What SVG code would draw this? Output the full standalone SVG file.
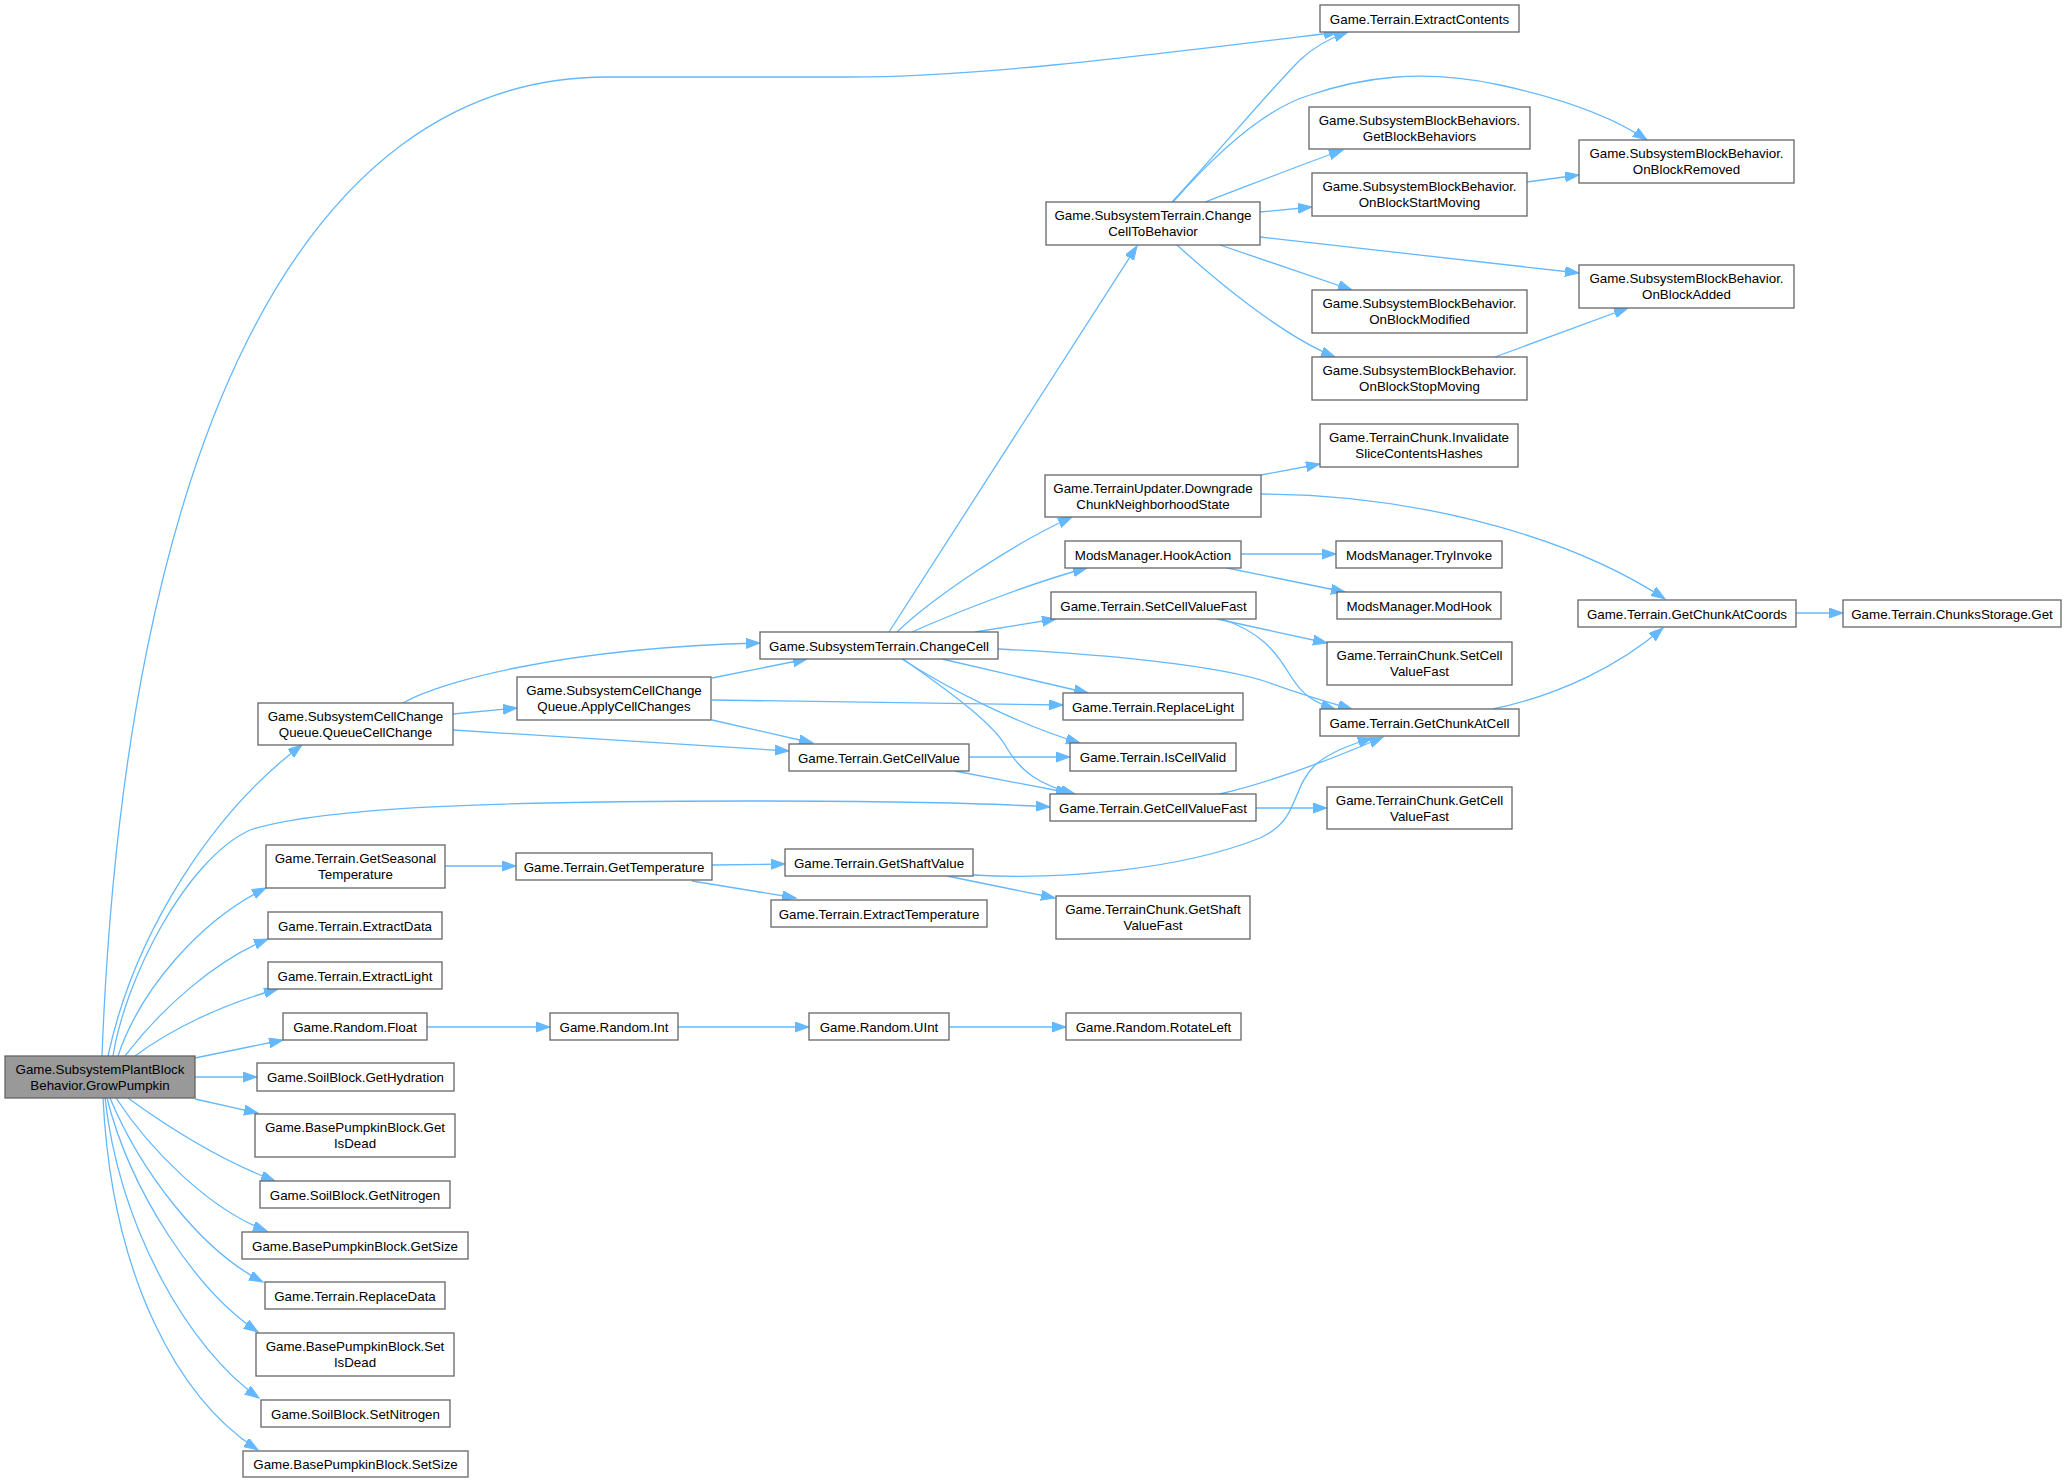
<svg xmlns="http://www.w3.org/2000/svg" width="2067" height="1483" viewBox="0 0 2067 1483">
<style>
.node rect{fill:#ffffff;stroke:#666666;stroke-width:1.3}
.node.main rect{fill:#999999}
.node text{font-family:"Liberation Sans",Arial,Helvetica,sans-serif;font-size:13.33px;fill:#000000;text-anchor:middle}
.edges path{fill:none;stroke:#63b8ff;stroke-width:1.3;marker-end:url(#ah)}
</style>
<defs>
<marker id="ah" markerUnits="userSpaceOnUse" markerWidth="16" markerHeight="12" refX="14" refY="5" orient="auto">
<path d="M0,0 L14,5 L0,10 z" fill="#63b8ff" stroke="#63b8ff" stroke-width="1"/>
</marker>
</defs>
<rect x="0" y="0" width="2067" height="1483" fill="#ffffff"/>
<g id="edges" class="edges">
<path d="M102,1056 C125,450 300,77 607,77 L850,77 C980,77 1150,55 1338,32"/>
<path d="M108,1056 C135,930 215,810 302,745"/>
<path d="M113,1056 C125,980 185,860 250,830 C320,807 500,801 750,801 C900,801 1000,804 1050,807"/>
<path d="M118,1056 C140,990 200,920 266,888"/>
<path d="M125,1056 C160,1010 215,960 268,939"/>
<path d="M135,1056 C170,1030 220,1005 278,989"/>
<path d="M195,1058 L283,1040"/>
<path d="M195,1077 L257,1077"/>
<path d="M195,1099 L258,1113"/>
<path d="M128,1098 C165,1125 220,1160 275,1181"/>
<path d="M116,1098 C150,1150 210,1210 267,1231"/>
<path d="M110,1098 C140,1170 200,1250 263,1282"/>
<path d="M107,1098 C130,1190 195,1290 258,1332"/>
<path d="M105,1098 C120,1230 190,1350 259,1398"/>
<path d="M103,1098 C112,1280 180,1400 258,1450"/>
<path d="M403,703 C440,682 560,648 760,643"/>
<path d="M453,714 L517,708"/>
<path d="M453,730 L789,751"/>
<path d="M712,678 L807,659"/>
<path d="M712,700 L1063,705"/>
<path d="M712,720 L813,743"/>
<path d="M889,632 L1137,246"/>
<path d="M897,632 C930,600 1010,545 1072,517"/>
<path d="M912,632 C950,615 1030,583 1087,568"/>
<path d="M975,632 L1056,619"/>
<path d="M998,649 C1100,654 1220,665 1270,683 C1295,692 1320,700 1352,709"/>
<path d="M942,659 L1088,693"/>
<path d="M902,659 C950,690 1020,725 1080,743"/>
<path d="M903,659 C940,685 990,720 1005,745 C1020,772 1040,785 1075,794"/>
<path d="M969,757 L1070,757"/>
<path d="M955,771 L1070,793"/>
<path d="M1220,794 C1270,782 1330,760 1383,737"/>
<path d="M1256,808 L1327,808"/>
<path d="M1217,619 L1327,643"/>
<path d="M1222,619 C1260,632 1275,650 1290,675 C1302,695 1315,703 1335,709"/>
<path d="M1241,554 L1336,554"/>
<path d="M1227,568 L1345,592"/>
<path d="M1261,475 L1320,464"/>
<path d="M1261,494 C1400,494 1560,530 1665,599"/>
<path d="M1493,709 C1560,695 1620,665 1663,628"/>
<path d="M1796,613 L1843,613"/>
<path d="M1172,202 C1220,150 1270,90 1300,60 C1315,46 1330,38 1348,32"/>
<path d="M1173,202 C1210,160 1260,110 1310,95 C1360,78 1420,68 1500,85 C1560,98 1610,115 1647,140"/>
<path d="M1205,202 C1250,185 1300,165 1343,150"/>
<path d="M1260,212 L1312,207"/>
<path d="M1260,237 L1579,273"/>
<path d="M1220,245 L1352,290"/>
<path d="M1177,245 C1210,275 1280,335 1335,357"/>
<path d="M1527,182 L1579,175"/>
<path d="M1495,357 L1628,308"/>
<path d="M445,866 L516,866"/>
<path d="M712,865 L785,864"/>
<path d="M692,881 L796,898"/>
<path d="M973,875 C1060,880 1180,870 1260,838 C1300,820 1290,790 1315,765 C1330,752 1350,745 1372,738"/>
<path d="M947,876 L1055,898"/>
<path d="M427,1027 L550,1027"/>
<path d="M678,1027 L809,1027"/>
<path d="M949,1027 L1066,1027"/>
</g>
<g id="n_main" class="node main"><rect x="5" y="1056" width="190" height="42"/><text x="100" y="1074">Game.SubsystemPlantBlock</text><text x="100" y="1090">Behavior.GrowPumpkin</text></g>
<g id="n_extractContents" class="node"><rect x="1320" y="5" width="199" height="27"/><text x="1419.5" y="23.5">Game.Terrain.ExtractContents</text></g>
<g id="n_getBlockBehaviors" class="node"><rect x="1309" y="107" width="221" height="42"/><text x="1419.5" y="125">Game.SubsystemBlockBehaviors.</text><text x="1419.5" y="141">GetBlockBehaviors</text></g>
<g id="n_onBlockRemoved" class="node"><rect x="1579" y="140" width="215" height="43"/><text x="1686.5" y="158">Game.SubsystemBlockBehavior.</text><text x="1686.5" y="174">OnBlockRemoved</text></g>
<g id="n_onBlockStartMoving" class="node"><rect x="1312" y="173" width="215" height="43"/><text x="1419.5" y="191">Game.SubsystemBlockBehavior.</text><text x="1419.5" y="207">OnBlockStartMoving</text></g>
<g id="n_changeCellToBehavior" class="node"><rect x="1046" y="202" width="214" height="43"/><text x="1153" y="220">Game.SubsystemTerrain.Change</text><text x="1153" y="236">CellToBehavior</text></g>
<g id="n_onBlockAdded" class="node"><rect x="1579" y="265" width="215" height="43"/><text x="1686.5" y="283">Game.SubsystemBlockBehavior.</text><text x="1686.5" y="299">OnBlockAdded</text></g>
<g id="n_onBlockModified" class="node"><rect x="1312" y="290" width="215" height="43"/><text x="1419.5" y="308">Game.SubsystemBlockBehavior.</text><text x="1419.5" y="324">OnBlockModified</text></g>
<g id="n_onBlockStopMoving" class="node"><rect x="1312" y="357" width="215" height="43"/><text x="1419.5" y="375">Game.SubsystemBlockBehavior.</text><text x="1419.5" y="391">OnBlockStopMoving</text></g>
<g id="n_invalidate" class="node"><rect x="1320" y="424" width="198" height="43"/><text x="1419" y="442">Game.TerrainChunk.Invalidate</text><text x="1419" y="458">SliceContentsHashes</text></g>
<g id="n_downgrade" class="node"><rect x="1045" y="475" width="216" height="42"/><text x="1153" y="493">Game.TerrainUpdater.Downgrade</text><text x="1153" y="509">ChunkNeighborhoodState</text></g>
<g id="n_hookAction" class="node"><rect x="1065" y="541" width="176" height="27"/><text x="1153" y="559.5">ModsManager.HookAction</text></g>
<g id="n_tryInvoke" class="node"><rect x="1336" y="541" width="166" height="27"/><text x="1419" y="559.5">ModsManager.TryInvoke</text></g>
<g id="n_setCellValueFast" class="node"><rect x="1051" y="592" width="205" height="27"/><text x="1153.5" y="610.5">Game.Terrain.SetCellValueFast</text></g>
<g id="n_modHook" class="node"><rect x="1337" y="592" width="164" height="27"/><text x="1419" y="610.5">ModsManager.ModHook</text></g>
<g id="n_getChunkAtCoords" class="node"><rect x="1578" y="600" width="218" height="27"/><text x="1687" y="618.5">Game.Terrain.GetChunkAtCoords</text></g>
<g id="n_chunksStorageGet" class="node"><rect x="1843" y="600" width="218" height="27"/><text x="1952" y="618.5">Game.Terrain.ChunksStorage.Get</text></g>
<g id="n_changeCell" class="node"><rect x="760" y="632" width="238" height="27"/><text x="879" y="650.5">Game.SubsystemTerrain.ChangeCell</text></g>
<g id="n_tcSetCellValueFast" class="node"><rect x="1327" y="642" width="185" height="43"/><text x="1419.5" y="660">Game.TerrainChunk.SetCell</text><text x="1419.5" y="676">ValueFast</text></g>
<g id="n_applyCellChanges" class="node"><rect x="517" y="677" width="194" height="43"/><text x="614" y="695">Game.SubsystemCellChange</text><text x="614" y="711">Queue.ApplyCellChanges</text></g>
<g id="n_replaceLight" class="node"><rect x="1063" y="693" width="180" height="27"/><text x="1153" y="711.5">Game.Terrain.ReplaceLight</text></g>
<g id="n_queueCellChange" class="node"><rect x="258" y="703" width="195" height="42"/><text x="355.5" y="721">Game.SubsystemCellChange</text><text x="355.5" y="737">Queue.QueueCellChange</text></g>
<g id="n_getChunkAtCell" class="node"><rect x="1320" y="709" width="199" height="27"/><text x="1419.5" y="727.5">Game.Terrain.GetChunkAtCell</text></g>
<g id="n_isCellValid" class="node"><rect x="1070" y="743" width="166" height="28"/><text x="1153" y="762">Game.Terrain.IsCellValid</text></g>
<g id="n_getCellValue" class="node"><rect x="789" y="744" width="180" height="27"/><text x="879" y="762.5">Game.Terrain.GetCellValue</text></g>
<g id="n_tcGetCellValueFast" class="node"><rect x="1327" y="787" width="185" height="42"/><text x="1419.5" y="805">Game.TerrainChunk.GetCell</text><text x="1419.5" y="821">ValueFast</text></g>
<g id="n_getCellValueFast" class="node"><rect x="1050" y="794" width="206" height="27"/><text x="1153" y="812.5">Game.Terrain.GetCellValueFast</text></g>
<g id="n_getSeasonalTemperature" class="node"><rect x="266" y="845" width="179" height="43"/><text x="355.5" y="863">Game.Terrain.GetSeasonal</text><text x="355.5" y="879">Temperature</text></g>
<g id="n_getShaftValue" class="node"><rect x="785" y="849" width="188" height="27"/><text x="879" y="867.5">Game.Terrain.GetShaftValue</text></g>
<g id="n_getTemperature" class="node"><rect x="516" y="853" width="196" height="27"/><text x="614" y="871.5">Game.Terrain.GetTemperature</text></g>
<g id="n_tcGetShaftValueFast" class="node"><rect x="1056" y="896" width="194" height="43"/><text x="1153" y="914">Game.TerrainChunk.GetShaft</text><text x="1153" y="930">ValueFast</text></g>
<g id="n_extractTemperature" class="node"><rect x="771" y="900" width="216" height="27"/><text x="879" y="918.5">Game.Terrain.ExtractTemperature</text></g>
<g id="n_extractData" class="node"><rect x="268" y="912" width="174" height="27"/><text x="355" y="930.5">Game.Terrain.ExtractData</text></g>
<g id="n_extractLight" class="node"><rect x="268" y="962" width="174" height="27"/><text x="355" y="980.5">Game.Terrain.ExtractLight</text></g>
<g id="n_randomFloat" class="node"><rect x="283" y="1013" width="144" height="27"/><text x="355" y="1031.5">Game.Random.Float</text></g>
<g id="n_randomInt" class="node"><rect x="550" y="1013" width="128" height="27"/><text x="614" y="1031.5">Game.Random.Int</text></g>
<g id="n_randomUInt" class="node"><rect x="809" y="1013" width="140" height="27"/><text x="879" y="1031.5">Game.Random.UInt</text></g>
<g id="n_randomRotateLeft" class="node"><rect x="1066" y="1013" width="175" height="27"/><text x="1153.5" y="1031.5">Game.Random.RotateLeft</text></g>
<g id="n_getHydration" class="node"><rect x="257" y="1063" width="197" height="28"/><text x="355.5" y="1082">Game.SoilBlock.GetHydration</text></g>
<g id="n_getIsDead" class="node"><rect x="255" y="1114" width="200" height="43"/><text x="355" y="1132">Game.BasePumpkinBlock.Get</text><text x="355" y="1148">IsDead</text></g>
<g id="n_getNitrogen" class="node"><rect x="260" y="1181" width="190" height="27"/><text x="355" y="1199.5">Game.SoilBlock.GetNitrogen</text></g>
<g id="n_getSize" class="node"><rect x="242" y="1232" width="226" height="27"/><text x="355" y="1250.5">Game.BasePumpkinBlock.GetSize</text></g>
<g id="n_replaceData" class="node"><rect x="265" y="1282" width="180" height="27"/><text x="355" y="1300.5">Game.Terrain.ReplaceData</text></g>
<g id="n_setIsDead" class="node"><rect x="256" y="1333" width="198" height="43"/><text x="355" y="1351">Game.BasePumpkinBlock.Set</text><text x="355" y="1367">IsDead</text></g>
<g id="n_setNitrogen" class="node"><rect x="261" y="1400" width="189" height="27"/><text x="355.5" y="1418.5">Game.SoilBlock.SetNitrogen</text></g>
<g id="n_setSize" class="node"><rect x="243" y="1451" width="225" height="26"/><text x="355.5" y="1469">Game.BasePumpkinBlock.SetSize</text></g>
</svg>
